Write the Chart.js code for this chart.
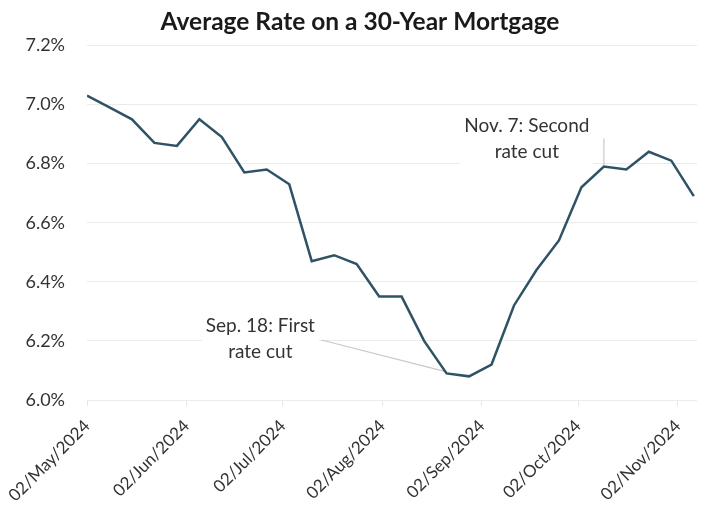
<!DOCTYPE html>
<html>
<head>
<meta charset="utf-8">
<script src="https://cdn.jsdelivr.net/npm/chart.js@4/dist/chart.umd.min.js"></script>
<style>
  html, body { margin: 0; padding: 0; background: #fff; }
  #wrap { width: 720px; height: 519px; }
</style>
</head>
<body>
<div id="wrap"><canvas id="c" width="720" height="519"></canvas></div>
<script>
// ---- data ----
const weekDates = [
  "2024-05-02","2024-05-09","2024-05-16","2024-05-23","2024-05-30","2024-06-06","2024-06-13",
  "2024-06-20","2024-06-27","2024-07-04","2024-07-11","2024-07-18","2024-07-25","2024-08-01",
  "2024-08-08","2024-08-15","2024-08-22","2024-08-29","2024-09-05","2024-09-12","2024-09-19",
  "2024-09-26","2024-10-03","2024-10-10","2024-10-17","2024-10-24","2024-10-31","2024-11-07"
];
const rates = [
  7.03, 6.99, 6.95, 6.87, 6.86, 6.95, 6.89,
  6.77, 6.78, 6.73, 6.47, 6.49, 6.46, 6.35,
  6.35, 6.20, 6.09, 6.08, 6.12, 6.32, 6.44,
  6.54, 6.72, 6.79, 6.78, 6.84, 6.81, 6.69
];
const tickDates = ["2024-05-02","2024-06-02","2024-07-02","2024-08-02","2024-09-02","2024-10-02","2024-11-02"];
const tickLabels = ["02/May/2024","02/Jun/2024","02/Jul/2024","02/Aug/2024","02/Sep/2024","02/Oct/2024","02/Nov/2024"];
const yTicks = [6.0, 6.2, 6.4, 6.6, 6.8, 7.0, 7.2];
const titleText = "Average Rate on a 30-Year Mortgage";
// annotations: text lines, text anchor (date, value), leader from (date,value) to (date,value)
const annotations = [
  { lines: ["Sep. 18: First", "rate cut"], at: ["2024-06-25", 6.208],
    from: ["2024-07-14", 6.203], to: ["2024-08-22", 6.095] },
  { lines: ["Nov. 7: Second", "rate cut"], at: ["2024-09-16", 6.882],
    from: ["2024-10-10", 6.885], to: ["2024-10-10", 6.795] }
];

const day0 = Date.UTC(2024, 4, 2);
function dayOf(s) {
  const [y, m, d] = s.split("-").map(Number);
  return (Date.UTC(y, m - 1, d) - day0) / 86400000;
}
const points = weekDates.map((d, i) => ({ x: dayOf(d), y: rates[i] }));
const tickDays = tickDates.map(dayOf);

const FONT = "Lato, 'Open Sans', sans-serif";
const TEXT = "#333333";

const annotationPlugin = {
  id: "notes",
  beforeDatasetsDraw(chart) {
    const { ctx, scales: { x, y } } = chart;
    ctx.save();
    ctx.font = "19px " + FONT;
    const lh = 26;
    annotations.forEach(a => {
      const cx = x.getPixelForValue(dayOf(a.at[0]));
      const cy = y.getPixelForValue(a.at[1]);
      const w = Math.max(...a.lines.map(l => ctx.measureText(l).width)) + 8;
      const h = lh * a.lines.length;
      ctx.fillStyle = "#ffffff";
      ctx.fillRect(cx - w / 2, cy - h / 2, w, h);
    });
    annotations.forEach(a => {
      const cx = x.getPixelForValue(dayOf(a.at[0]));
      const cy = y.getPixelForValue(a.at[1]);
      const h = lh * a.lines.length;
      ctx.strokeStyle = "#c9c9c9";
      ctx.lineWidth = 1.2;
      ctx.beginPath();
      ctx.moveTo(x.getPixelForValue(dayOf(a.from[0])), y.getPixelForValue(a.from[1]));
      ctx.lineTo(x.getPixelForValue(dayOf(a.to[0])), y.getPixelForValue(a.to[1]));
      ctx.stroke();
      ctx.fillStyle = TEXT;
      ctx.textAlign = "center";
      ctx.textBaseline = "middle";
      a.lines.forEach((l, i) => {
        ctx.fillText(l, cx, cy - h / 2 + lh * (i + 0.5));
      });
    });
    ctx.restore();
  }
};

new Chart(document.getElementById("c"), {
  type: "line",
  data: {
    datasets: [{
      data: points,
      borderColor: "#2f5365",
      borderWidth: 2.5,
      pointRadius: 0,
      tension: 0,
      fill: false
    }]
  },
  options: {
    responsive: false,
    animation: false,
    devicePixelRatio: 1,
    layout: { padding: 0 },
    plugins: {
      legend: { display: false },
      tooltip: { enabled: false },
      title: {
        display: true,
        text: titleText,
        color: "#1a1a1a",
        font: { family: FONT, size: 24.5, weight: "bold" },
        padding: { top: 7, bottom: 9 }
      }
    },
    scales: {
      x: {
        type: "linear",
        min: 0,
        max: 190,
        afterBuildTicks(s) { s.ticks = tickDays.map(v => ({ value: v })); },
        afterFit(s) { s.height = 119; },
        grid: { display: true, drawOnChartArea: false, drawTicks: true, tickLength: 6, color: "#e6e6e6" },
        border: { display: false },
        ticks: {
          autoSkip: false,
          minRotation: 45,
          maxRotation: 45,
          color: TEXT,
          font: { family: FONT, size: 17 },
          padding: 10,
          callback: (v) => { const i = tickDays.indexOf(v); return i >= 0 ? tickLabels[i] : ""; }
        }
      },
      y: {
        min: 6.0,
        max: 7.2,
        afterBuildTicks(s) { s.ticks = yTicks.map(v => ({ value: v })); },
        afterFit(s) { s.width = 87; },
        grid: { color: "#ebebeb", lineWidth: 1, drawTicks: false },
        border: { display: false },
        ticks: {
          color: TEXT,
          font: { family: FONT, size: 18 },
          padding: 22,
          callback: (v) => v.toFixed(1) + "%"
        }
      },
      yRight: {
        position: "right",
        min: 6.0,
        max: 7.2,
        afterFit(s) { s.width = 23; },
        grid: { display: false, drawTicks: false },
        border: { display: false },
        ticks: { display: false }
      }
    }
  },
  plugins: [annotationPlugin]
});
</script>
</body>
</html>
